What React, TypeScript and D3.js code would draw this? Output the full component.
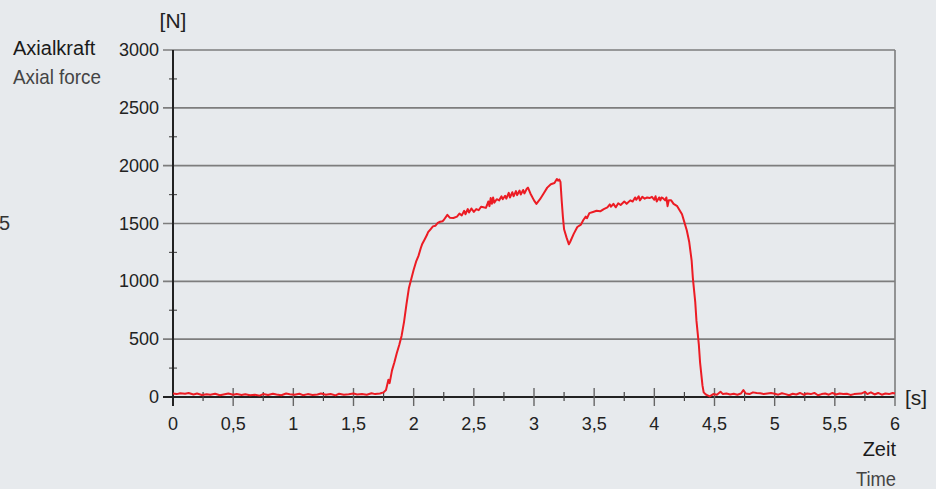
import React from "react";
import * as d3 from "d3";

const yTicks = [0, 500, 1000, 1500, 2000, 2500, 3000];
const yMinorTicks = [250, 750, 1250, 1750, 2250, 2750];
const xTicks = [0, 0.5, 1, 1.5, 2, 2.5, 3, 3.5, 4, 4.5, 5, 5.5, 6];
const xTickLabels = ["0", "0,5", "1", "1,5", "2", "2,5", "3", "3,5", "4", "4,5", "5", "5,5", "6"];
const xMinorTicks = [0.25, 0.75, 1.25, 1.75, 2.25, 2.75, 3.25, 3.75, 4.25, 4.75, 5.25, 5.75];

const baselineStart: [number, number][] = [
  [0, 30], [0.03, 25], [0.06, 32], [0.1, 28], [0.13, 35], [0.17, 22], [0.2, 30], [0.24, 18], [0.28, 24],
  [0.31, 20], [0.35, 28], [0.39, 15], [0.42, 22], [0.46, 30], [0.5, 20], [0.53, 26], [0.57, 18], [0.6, 24],
  [0.64, 15], [0.68, 20], [0.72, 12], [0.75, 25], [0.79, 18], [0.83, 28], [0.86, 22], [0.9, 15], [0.94, 30],
  [0.97, 24], [1.01, 20], [1.05, 28], [1.08, 16], [1.12, 25], [1.16, 18], [1.2, 22], [1.23, 30], [1.27, 20],
  [1.31, 26], [1.35, 14], [1.38, 28], [1.42, 20], [1.46, 24], [1.5, 30], [1.53, 22], [1.57, 26], [1.61, 20],
  [1.65, 32], [1.68, 25], [1.72, 30], [1.75, 40],
];
const rise: [number, number][] = [
  [1.77, 60], [1.79, 150], [1.8, 120], [1.82, 230], [1.84, 300], [1.86, 380], [1.88, 450], [1.9, 530],
  [1.92, 650], [1.94, 800], [1.96, 940], [1.98, 1020], [2.0, 1100], [2.02, 1170], [2.04, 1220], [2.06, 1290],
  [2.07, 1320], [2.09, 1360], [2.11, 1400], [2.12, 1425], [2.14, 1450], [2.16, 1475], [2.18, 1480],
  [2.2, 1505], [2.22, 1515], [2.24, 1520],
];
const plateau: [number, number][] = [
  [2.25, 1530], [2.28, 1575], [2.3, 1550], [2.33, 1548], [2.36, 1560], [2.38, 1585], [2.4, 1570], [2.42, 1610],
  [2.43, 1580], [2.45, 1625], [2.46, 1595], [2.48, 1630], [2.5, 1600], [2.52, 1625], [2.54, 1615], [2.56, 1645],
  [2.58, 1640], [2.6, 1635], [2.61, 1660], [2.62, 1690], [2.63, 1650], [2.64, 1720], [2.65, 1670], [2.66, 1725],
  [2.67, 1680], [2.69, 1710], [2.71, 1700], [2.73, 1735], [2.74, 1710], [2.76, 1740], [2.77, 1715], [2.79, 1765],
  [2.8, 1725], [2.82, 1770], [2.83, 1735], [2.85, 1780], [2.86, 1745], [2.88, 1785], [2.89, 1750], [2.91, 1790],
  [2.92, 1760], [2.94, 1800], [2.95, 1810], [2.97, 1760], [3.0, 1700], [3.02, 1670], [3.05, 1710], [3.08, 1760],
  [3.11, 1810], [3.14, 1840], [3.17, 1850], [3.19, 1885], [3.2, 1870], [3.21, 1880], [3.22, 1860], [3.23, 1700],
  [3.24, 1560], [3.25, 1450], [3.27, 1380], [3.29, 1320], [3.3, 1340], [3.33, 1410], [3.36, 1470], [3.39, 1490],
  [3.41, 1530], [3.43, 1560], [3.44, 1545], [3.46, 1590], [3.49, 1600], [3.52, 1610], [3.55, 1605], [3.58, 1625],
  [3.61, 1640], [3.63, 1665], [3.64, 1645], [3.66, 1670], [3.68, 1640], [3.7, 1675], [3.72, 1660], [3.75, 1690],
  [3.77, 1670], [3.8, 1700], [3.82, 1690], [3.84, 1725], [3.85, 1705], [3.87, 1735], [3.88, 1700], [3.9, 1730],
  [3.92, 1715], [3.94, 1725], [3.96, 1720], [3.98, 1730], [4.0, 1705], [4.01, 1735], [4.02, 1690], [4.04, 1725],
  [4.05, 1700], [4.06, 1725], [4.07, 1720], [4.09, 1700], [4.1, 1725], [4.11, 1650], [4.12, 1700], [4.14, 1700],
  [4.16, 1670], [4.19, 1650],
];
const fall: [number, number][] = [
  [4.21, 1615], [4.23, 1580], [4.25, 1510], [4.27, 1440], [4.29, 1340], [4.31, 1180], [4.32, 1030], [4.34, 820],
  [4.35, 660], [4.37, 450], [4.38, 300], [4.4, 100], [4.41, 40], [4.43, 20],
];
const baselineEnd: [number, number][] = [
  [4.46, 5], [4.49, 25], [4.52, 20], [4.55, 45], [4.57, 25], [4.6, 30], [4.63, 22], [4.66, 28], [4.69, 20],
  [4.72, 30], [4.74, 60], [4.76, 30], [4.79, 25], [4.82, 40], [4.85, 35], [4.88, 32], [4.91, 25], [4.94, 30],
  [4.97, 35], [5.0, 28], [5.03, 20], [5.06, 32], [5.09, 25], [5.12, 15], [5.15, 28], [5.18, 22], [5.21, 35],
  [5.24, 20], [5.27, 30], [5.3, 25], [5.33, 35], [5.36, 15], [5.39, 25], [5.42, 30], [5.45, 20], [5.48, 35],
  [5.51, 22], [5.54, 30], [5.57, 25], [5.6, 28], [5.63, 18], [5.66, 25], [5.69, 28], [5.72, 30], [5.75, 45],
  [5.77, 25], [5.8, 40], [5.83, 22], [5.86, 35], [5.89, 20], [5.92, 30], [5.95, 25], [5.98, 35], [6.0, 30],
];

const FONT = "'Liberation Sans Narrow', 'Arial Narrow', 'Liberation Sans', sans-serif";

export default function App() {
  const width = 936;
  const height = 489;
  const x = d3.scaleLinear().domain([0, 6]).range([173, 895]);
  const y = d3.scaleLinear().domain([0, 3000]).range([397, 50]);
  const data = [...baselineStart, ...rise, ...plateau, ...fall, ...baselineEnd];
  const line = d3
    .line<[number, number]>()
    .x((d) => x(d[0]))
    .y((d) => y(d[1]));

  return (
    <svg
      width={width}
      height={height}
      style={{ position: "absolute", left: 0, top: 0, background: "#e7eaed" }}
      fontFamily={FONT}
    >
      <rect x={0} y={0} width={width} height={height} fill="#e7eaed" />
      {yTicks.map((t) => (
        <line key={"g" + t} x1={163} x2={x(6)} y1={y(t)} y2={y(t)} stroke={t === 0 ? "#222" : "#7d7d7d"} strokeWidth={t === 0 ? 2 : 1.6} />
      ))}
      {yMinorTicks.map((t) => (
        <line key={"ym" + t} x1={169} x2={177} y1={y(t)} y2={y(t)} stroke="#555" strokeWidth={1.2} />
      ))}
      <line x1={x(6)} x2={x(6)} y1={y(3000)} y2={406} stroke="#7d7d7d" strokeWidth={1.6} />
      {xTicks.filter((t) => t > 0 && t < 6).map((t) => (
        <line key={"xt" + t} x1={x(t)} x2={x(t)} y1={388} y2={406} stroke="#666" strokeWidth={1.4} />
      ))}
      {xMinorTicks.map((t) => (
        <line key={"xm" + t} x1={x(t)} x2={x(t)} y1={392} y2={401} stroke="#444" strokeWidth={1.2} />
      ))}
      <line x1={x(0)} x2={x(0)} y1={y(3000)} y2={406} stroke="#222" strokeWidth={2} />
      <path d={line(data) || ""} fill="none" stroke="#ec1c24" strokeWidth={2} strokeLinejoin="round" />
      {yTicks.map((t) => (
        <text key={"yl" + t} x={159} y={y(t) + 6} textAnchor="end" fontSize={18} fill="#222">
          {t}
        </text>
      ))}
      {xTicks.map((t, i) => (
        <text key={"xl" + t} x={x(t)} y={430} textAnchor="middle" fontSize={18} fill="#222">
          {xTickLabels[i]}
        </text>
      ))}
      <text x={x(0)} y={28} textAnchor="middle" fontSize={21} fill="#222">[N]</text>
      <text x={13} y={55} fontSize={20} fill="#1a1a1a">Axialkraft</text>
      <text x={13} y={84} fontSize={21} fill="#444" textLength={88} lengthAdjust="spacingAndGlyphs">Axial force</text>
      <text x={-1} y={230} fontSize={20} fill="#333">5</text>
      <text x={905} y={405} fontSize={21} fill="#222">[s]</text>
      <text x={896} y={456} textAnchor="end" fontSize={20} fill="#1a1a1a">Zeit</text>
      <text x={856} y={486} fontSize={21} fill="#444" textLength={40} lengthAdjust="spacingAndGlyphs">Time</text>
    </svg>
  );
}
